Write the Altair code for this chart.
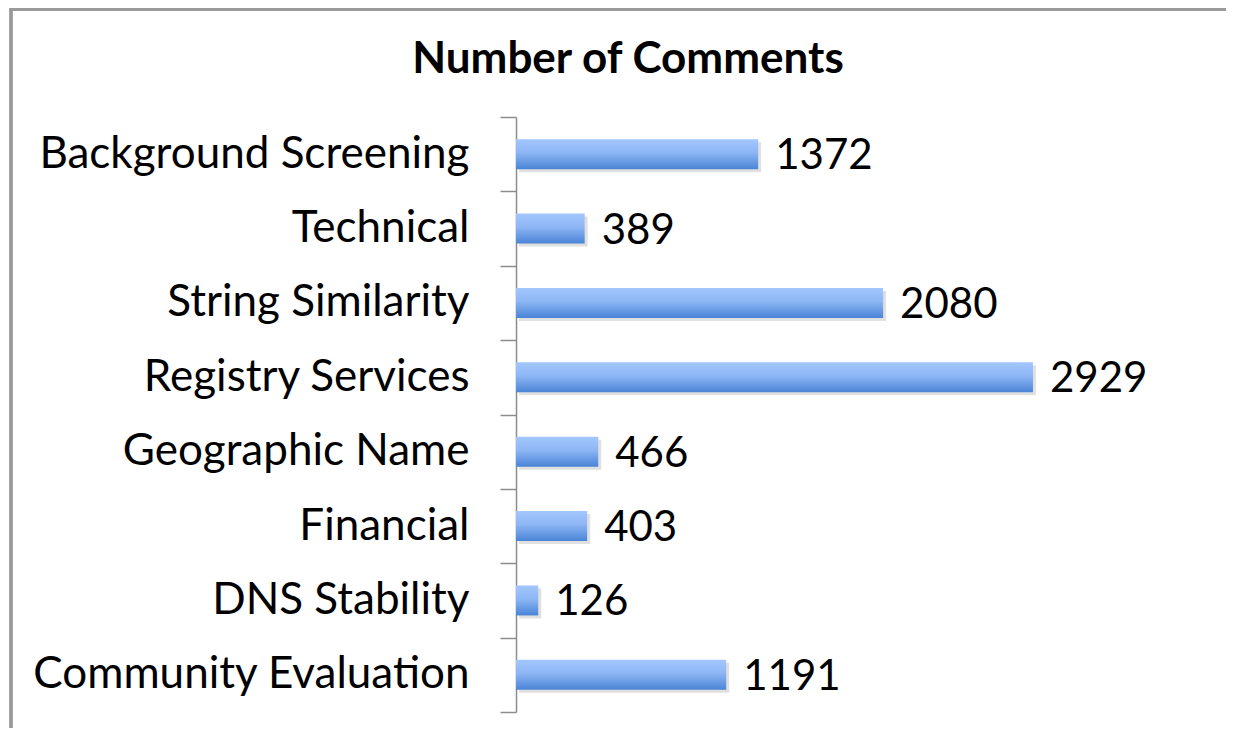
import altair as alt
import pandas as pd

categories = ["Background Screening", "Technical", "String Similarity", "Registry Services",
              "Geographic Name", "Financial", "DNS Stability", "Community Evaluation"]
comments = [1372, 389, 2080, 2929, 466, 403, 126, 1191]

df = pd.DataFrame({"category": categories, "comments": comments})

FONT = "Lato"
W, H = 706, 595

y_enc = alt.Y("category:N", sort=categories, title=None,
              scale=alt.Scale(paddingInner=0, paddingOuter=0),
              axis=alt.Axis(tickBand="extent", tickSize=16, labelPadding=31,
                            labelFontSize=44, labelFont=FONT, labelColor="#000000",
                            domainColor="#8c8c8c", tickColor="#8c8c8c",
                            domainWidth=1.5, tickWidth=1.5, labelLimit=600))
x_enc = alt.X("comments:Q", scale=alt.Scale(domain=[0, 4000]), axis=None)

gradient = alt.Gradient(gradient="linear", x1=0, y1=0, x2=0, y2=1,
                        stops=[alt.GradientStop(color="#a3c7ff", offset=0),
                               alt.GradientStop(color="#8db6f4", offset=0.45),
                               alt.GradientStop(color="#4a84d6", offset=1)])

shadow = alt.Chart(df).mark_bar(size=30, color="#000000", opacity=0.12,
                                xOffset=3, yOffset=3).encode(y=y_enc, x=x_enc)
bars = alt.Chart(df).mark_bar(size=30, color=gradient).encode(y=y_enc, x=x_enc)
labels = alt.Chart(df).mark_text(align="left", baseline="middle", dx=17, dy=2,
                                 fontSize=42, font=FONT, color="#000000").encode(
    y=y_enc, x=x_enc, text="comments:Q")

frame = alt.Chart(df).mark_rect(fill=None, stroke="#9a9a9a", strokeWidth=2.5).encode(
    x=alt.value(-505), x2=alt.value(W + 300), y=alt.value(-107.5), y2=alt.value(H + 300))

chart = alt.layer(frame, shadow, bars, labels).properties(
    width=W, height=H,
    title=alt.TitleParams("Number of Comments", font=FONT, fontSize=44, fontWeight="bold",
                          color="#000000", anchor="middle", frame="group", dx=-241,
                          baseline="alphabetic", offset=-109),
    autosize=alt.AutoSizeParams(type="none"),
    padding={"left": 508, "top": 109, "right": 4, "bottom": 16},
).configure(background="#ffffff").configure_view(strokeWidth=0, stroke="transparent")

chart.save("out.html", embed_options={"renderer": "svg", "actions": False})
